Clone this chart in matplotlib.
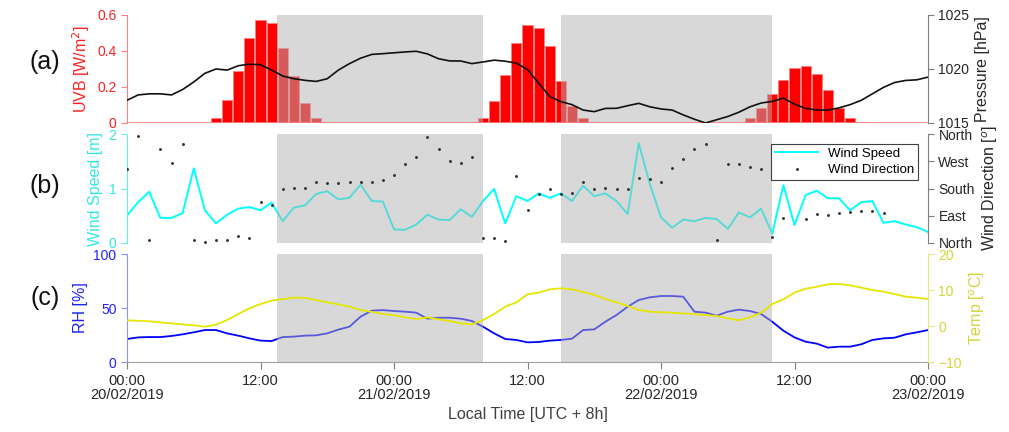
import matplotlib.pyplot as plt
import numpy as np
from matplotlib.ticker import FormatStrFormatter
from matplotlib.lines import Line2D

plt.rcParams['font.family'] = ['Liberation Sans', 'DejaVu Sans']
plt.rcParams['font.size'] = 10

# hourly time axis, 0 = 20/02/2019 00:00 local time
hours = np.arange(0, 73)

# UVB bars, three days of daylight hours
uvb_start = [8, 32, 56]
uvb_day1 = [0.03, 0.13, 0.29, 0.475, 0.57, 0.557, 0.417, 0.26, 0.11, 0.03, 0.007]
uvb_day2 = [0.03, 0.12, 0.265, 0.444, 0.544, 0.530, 0.426, 0.235, 0.094, 0.026, 0.006]
uvb_day3 = [0.026, 0.085, 0.161, 0.237, 0.304, 0.317, 0.270, 0.185, 0.085, 0.026, 0.006]

pressure = [1017.1, 1017.6, 1017.7, 1017.7, 1017.6, 1018.1, 1018.8, 1019.6, 1020.0, 1019.9,
            1020.3, 1020.45, 1020.4, 1019.9, 1019.35, 1019.1, 1018.95, 1018.85, 1019.1, 1019.9,
            1020.5, 1021.0, 1021.35, 1021.42, 1021.5, 1021.58, 1021.64, 1021.4, 1020.95, 1020.75,
            1020.74, 1020.5, 1020.65, 1020.82, 1020.72, 1020.55, 1019.95, 1018.7, 1017.45, 1016.98,
            1016.7, 1016.2, 1016.05, 1016.35, 1016.36, 1016.6, 1016.82, 1016.5, 1016.3, 1016.2,
            1015.75, 1015.35, 1015.0, 1015.3, 1015.6, 1016.0, 1016.5, 1016.85, 1017.0, 1017.3,
            1016.75, 1016.35, 1016.2, 1016.2, 1016.4, 1016.7, 1017.1, 1017.7, 1018.3, 1018.75,
            1018.94, 1019.0, 1019.25]

wind_speed = [0.50, 0.75, 0.94, 0.46, 0.46, 0.55, 1.37, 0.60, 0.36, 0.52,
              0.63, 0.66, 0.60, 0.74, 0.40, 0.65, 0.69, 0.90, 0.95, 0.80,
              0.83, 1.07, 0.77, 0.76, 0.25, 0.24, 0.34, 0.52, 0.43, 0.42,
              0.62, 0.48, 0.77, 0.99, 0.36, 0.86, 0.77, 0.91, 0.83, 0.91,
              0.77, 1.05, 0.86, 0.91, 0.77, 0.53, 1.83, 1.08, 0.47, 0.28,
              0.43, 0.40, 0.46, 0.44, 0.26, 0.56, 0.47, 0.63, 0.17, 1.06,
              0.33, 0.88, 0.96, 0.82, 0.82, 0.60, 0.75, 0.77, 0.37, 0.40,
              0.34, 0.29, 0.20]

wind_dir = [246, 353, 9, 309, 263, 327, 9, 2, 11, 11,
            22, 17, 134, 125, 178, 182, 182, 201, 197, 199,
            203, 201, 200, 209, 225, 260, 285, 349, 310, 272,
            265, 285, 15, 17, 8, 222, 109, 161, 180, 162,
            165, 200, 179, 182, 179, 179, 216, 211, 202, 248,
            276, 310, 326, 9, 262, 262, 251, 244, 20, 83,
            276, 80, 95, 92, 98, 102, 107, 107, 100, np.nan,
            np.nan, np.nan, np.nan]

rh = [21.3, 22.8, 23.1, 23.1, 24.1, 25.6, 27.5, 29.6, 29.6, 26.5,
      24.4, 21.9, 19.8, 19.4, 23.1, 23.5, 24.4, 24.7, 26.5, 30.0,
      32.7, 42.0, 47.5, 48.1, 47.2, 46.6, 45.7, 40.1, 41.0, 41.0,
      40.1, 38.0, 32.7, 26.5, 21.3, 20.4, 18.2, 18.5, 19.8, 20.4,
      21.6, 29.6, 30.2, 37.3, 43.5, 51.2, 57.4, 59.9, 61.1, 61.1,
      60.5, 46.6, 45.7, 42.9, 46.6, 48.5, 47.2, 44.4, 37.3, 29.0,
      22.8, 18.8, 17.0, 13.3, 14.2, 14.2, 16.4, 20.4, 21.9, 22.5,
      25.6, 27.5, 29.6]

temp = [1.57, 1.45, 1.30, 1.0, 0.74, 0.45, 0.19, -0.19, 0.37, 1.67,
        3.33, 4.9, 6.1, 7.04, 7.5, 7.87, 7.78, 7.2, 6.57, 6.0,
        5.37, 4.44, 3.9, 3.33, 2.96, 2.4, 1.94, 2.4, 1.85, 1.39,
        0.74, 0.46, 1.67, 3.33, 5.37, 6.57, 8.8, 9.26, 10.19, 10.46,
        10.19, 9.44, 8.7, 7.5, 6.57, 5.56, 4.44, 3.98, 3.8, 3.7,
        3.5, 3.33, 3.06, 2.78, 2.13, 1.57, 2.4, 3.7, 6.1, 7.4,
        9.26, 10.37, 10.9, 11.57, 11.67, 11.3, 10.65, 10.0, 9.54, 8.89,
        8.15, 7.87, 7.5]

# night periods shaded grey
night_spans = [(13.5, 32.0), (39.0, 58.0)]

xtick_pos = [0, 12, 24, 36, 48, 60, 72]
xtick_lab = ['00:00\n20/02/2019', '12:00', '00:00\n21/02/2019', '12:00',
             '00:00\n22/02/2019', '12:00', '00:00\n23/02/2019']

dark = '#262626'
fig = plt.figure(figsize=(10.09, 4.32), dpi=100)
left, width = 127 / 1009, 801 / 1009
ax_a = fig.add_axes([left, 1 - 123 / 432, width, 108 / 432])
ax_b = fig.add_axes([left, 1 - 243 / 432, width, 109 / 432])
ax_c = fig.add_axes([left, 1 - 362 / 432, width, 108 / 432])


def style_pair(ax, ax2, lcol, lspine, rcol, rspine):
    for a in (ax, ax2):
        a.set_xlim(0, 72)
        a.spines['top'].set_visible(False)
        a.spines['bottom'].set_visible(False)
        a.tick_params(axis='x', bottom=False, labelbottom=False)
    ax.spines['right'].set_visible(False)
    ax2.spines['left'].set_visible(False)
    ax.spines['left'].set_color(lspine)
    ax2.spines['right'].set_color(rspine)
    ax.tick_params(axis='y', colors=lspine, labelcolor=lcol, direction='out', length=4, labelsize=10)
    ax2.tick_params(axis='y', colors=rspine, labelcolor=rcol, direction='out', length=4, labelsize=10)


def shade(ax):
    for s, e in night_spans:
        ax.axvspan(s, e, color='#b3b3b3', alpha=0.5, lw=0, zorder=5)


# (a) UVB and pressure
ax_a2 = ax_a.twinx()
for start, vals in zip(uvb_start, [uvb_day1, uvb_day2, uvb_day3]):
    ax_a.bar(np.arange(start, start + len(vals)), vals, width=0.9,
             color='#ff0000', edgecolor='#ff8080', linewidth=0.6)
ax_a.axhline(0, color='#ff8080', lw=1.2, zorder=6)
shade(ax_a)
ax_a.set_ylim(0, 0.6)
ax_a.set_yticks([0, 0.2, 0.4, 0.6])
ax_a.yaxis.set_major_formatter(FormatStrFormatter('%g'))
ax_a.set_ylabel('UVB [W/m$^2$]', color='#ff2020', fontsize=11.5)
ax_a2.plot(hours, pressure, color='#111111', lw=1.2)
ax_a2.set_ylim(1015, 1025)
ax_a2.set_yticks([1015, 1020, 1025])
ax_a2.set_ylabel('Pressure [hPa]', color=dark, fontsize=11.5)
style_pair(ax_a, ax_a2, '#ff2020', '#ff8080', dark, '#808080')

# (b) wind speed and direction
ax_b2 = ax_b.twinx()
ax_b.plot(hours, wind_speed, color='#00ffff', lw=1.4)
shade(ax_b)
ax_b.set_ylim(0, 2)
ax_b.set_yticks([0, 1, 2])
ax_b.set_ylabel('Wind Speed [m]', color='#33e6e6', fontsize=11.5)
ax_b2.plot(hours, wind_dir, ls='none', marker='.', ms=2.2, color='#333333')
ax_b2.set_ylim(0, 360)
ax_b2.set_yticks([0, 90, 180, 270, 360])
ax_b2.set_yticklabels(['North', 'East', 'South', 'West', 'North'])
ax_b2.set_ylabel('Wind Direction [$^o$]', color=dark, fontsize=11.5)
style_pair(ax_b, ax_b2, '#33e6e6', '#66eeee', dark, '#808080')
handles = [Line2D([], [], color='#00ffff', lw=1.4),
           Line2D([], [], ls='none', marker='.', ms=2.2, color='#333333')]
leg = ax_b2.legend(handles, ['Wind Speed', 'Wind Direction'], loc='upper right',
                   bbox_to_anchor=(0.988, 0.91), borderaxespad=0, fancybox=False,
                   framealpha=1, edgecolor='#404040', fontsize=9.5, handlelength=3.2,
                   borderpad=0.3, labelspacing=0.3)
leg.get_frame().set_linewidth(0.8)

# (c) relative humidity and temperature
ax_c2 = ax_c.twinx()
ax_c.plot(hours, rh, color='#0000ff', lw=1.3)
shade(ax_c)
ax_c.set_ylim(0, 100)
ax_c.set_yticks([0, 50, 100])
ax_c.set_ylabel('RH [%]', color='#2020ff', fontsize=11.5)
ax_c2.plot(hours, temp, color='#e6e600', lw=1.3)
ax_c2.set_ylim(-10, 20)
ax_c2.set_yticks([-10, 0, 10, 20])
ax_c2.set_ylabel('Temp [$^o$C]', color='#d4d43a', fontsize=11.5)
style_pair(ax_c, ax_c2, '#2020ff', '#9090ff', '#d4d43a', '#e6e680')
ax_c.spines['bottom'].set_visible(True)
ax_c.spines['bottom'].set_color('#a0a0a0')
ax_c.spines['bottom'].set_zorder(7)
ax_c.tick_params(axis='x', bottom=True, labelbottom=True, colors='#808080',
                 labelcolor=dark, direction='out', length=5, labelsize=10.5)
ax_c.set_xticks(xtick_pos)
ax_c.set_xticklabels(xtick_lab, linespacing=1.05)
ax_c.set_xlabel('Local Time [UTC + 8h]', color='#404040', fontsize=11.5, labelpad=3)

for lab, y in [('(a)', 62), ('(b)', 186), ('(c)', 298)]:
    fig.text(45 / 1009, 1 - y / 432, lab, fontsize=18, ha='center', va='center', color='#111111')

plt.savefig('out.png', dpi=100)
